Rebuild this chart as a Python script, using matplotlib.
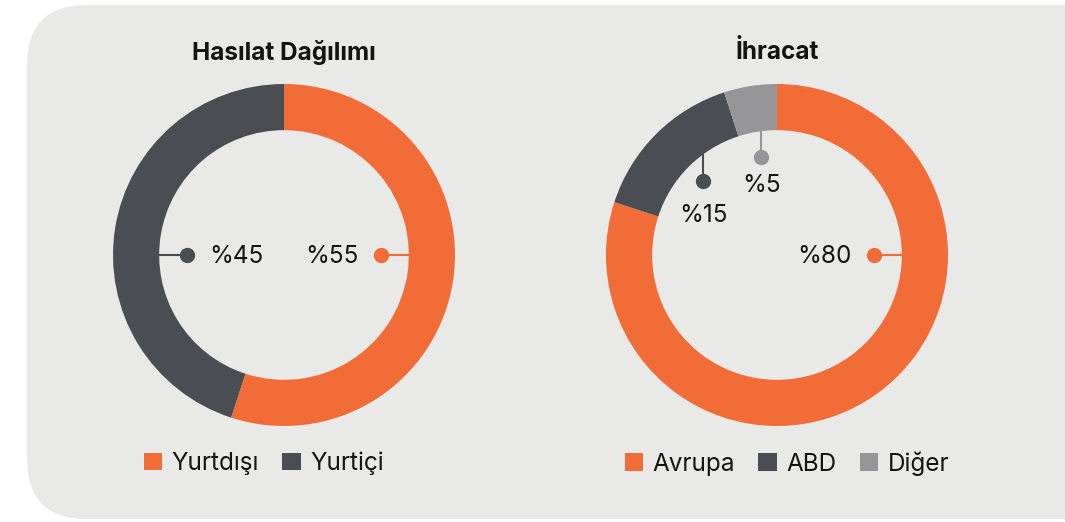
import numpy as np
import matplotlib.pyplot as plt
from matplotlib.patches import FancyBboxPatch, Patch

plt.rcParams['font.family'] = ['Inter', 'DejaVu Sans']

# data
rev_labels = ['Yurtdışı', 'Yurtiçi']
rev_values = [55, 45]
exp_labels = ['Avrupa', 'ABD', 'Diğer']
exp_values = [80, 15, 5]

ORANGE = '#f26c37'
DARK = '#4a4d52'
LIGHT = '#969699'
BG = '#e9e9e7'
TXT = '#141414'

W, H = 1065, 522
fig = plt.figure(figsize=(W / 100, H / 100), dpi=100)
fig.patch.set_facecolor('white')

# rounded gray card behind everything
bg = fig.add_axes([0, 0, 1, 1])
bg.set_xlim(0, W)
bg.set_ylim(H, 0)
bg.axis('off')
bg.add_patch(FancyBboxPatch((27, 5), 1100, 514, boxstyle='round,pad=0,rounding_size=60',
                            facecolor=BG, edgecolor='none'))

R_PX = 171  # outer radius in pixels
LIM = 1.05


def donut_axes(cx, cy):
    size = 2 * LIM * R_PX
    return fig.add_axes([(cx - size / 2) / W, (H - cy - size / 2) / H, size / W, size / H])


def draw(ax, values, colors, title):
    wedges, _ = ax.pie(values, colors=colors, startangle=90, counterclock=False,
                       radius=1, wedgeprops=dict(width=0.27, edgecolor='none'))
    ax.set_xlim(-LIM, LIM)
    ax.set_ylim(-LIM, LIM)
    ax.set_aspect('equal')
    ax.axis('off')
    ax.text(0, 1.185, title, ha='center', va='center', fontsize=17.5, fontweight='bold', color=TXT)
    return wedges


def side_label(ax, val, color, side):
    # horizontal leader from inner ring to a dot, text next to it
    s = 1 if side == 'right' else -1
    ax.plot([s * 0.57, s * 0.73], [0, 0], color=color, lw=1.5, solid_capstyle='butt')
    ax.plot(s * 0.57, 0, 'o', color=color, ms=10)
    ax.text(s * 0.435, -0.01, f'%{val}', ha='right' if s > 0 else 'left', va='center',
            fontsize=17.5, color=TXT)


def top_label(ax, wedge, val, color, r=0.6, drop=0.19):
    ang = np.deg2rad((wedge.theta1 + wedge.theta2) / 2)
    x, y = r * np.cos(ang), r * np.sin(ang)
    y_ring = np.sqrt(0.73 ** 2 - x ** 2)
    ax.plot([x, x], [y, y_ring], color=color, lw=1.5, solid_capstyle='butt')
    ax.plot(x, y, 'o', color=color, ms=10)
    ax.text(x, y - drop, f'%{val}', ha='center', va='center', fontsize=17.5, color=TXT)


def legend(ax, labels, colors, x):
    handles = [Patch(facecolor=c, edgecolor='none') for c in colors]
    ax.legend(handles, labels, loc='center', bbox_to_anchor=(x, -0.08), ncol=len(labels),
              frameon=False, fontsize=17.5, handlelength=0.75, handleheight=0.75,
              handletextpad=0.4, columnspacing=0.95, labelcolor=TXT)


# left donut
ax1 = donut_axes(284, 255)
draw(ax1, rev_values, [ORANGE, DARK], 'Hasılat Dağılımı')
side_label(ax1, rev_values[0], ORANGE, 'right')
side_label(ax1, rev_values[1], DARK, 'left')
legend(ax1, rev_labels, [ORANGE, DARK], 0.444)

# right donut
ax2 = donut_axes(777, 255)
w2 = draw(ax2, exp_values, [ORANGE, DARK, LIGHT], 'İhracat')
side_label(ax2, exp_values[0], ORANGE, 'right')
top_label(ax2, w2[1], exp_values[1], DARK, r=0.61, drop=0.2)
top_label(ax2, w2[2], exp_values[2], LIGHT, r=0.58, drop=0.165)
legend(ax2, exp_labels, [ORANGE, DARK, LIGHT], 0.528)

fig.savefig('out.png', dpi=100, facecolor=fig.get_facecolor())
